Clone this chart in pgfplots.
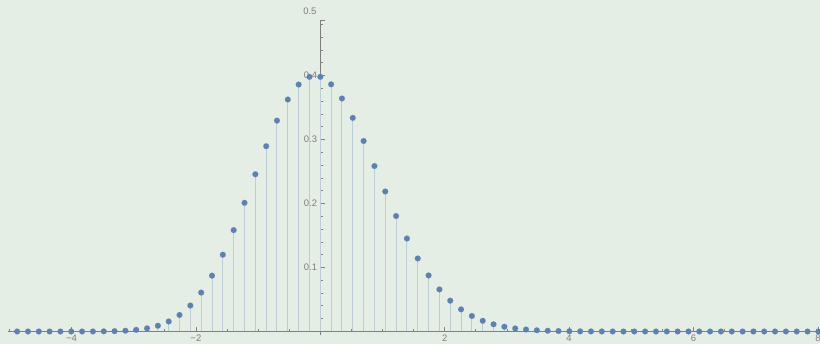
\documentclass[border=0pt]{standalone}
\usepackage{pgfplots}
\pgfplotsset{compat=1.18}
\usepackage{pgfplotstable}
\usepackage{fontspec}
\setmainfont{Liberation Sans}
\definecolor{bg}{RGB}{229,238,229}
\definecolor{pt}{RGB}{94,129,181}
\definecolor{stem}{RGB}{190,204,216}
\definecolor{ax}{RGB}{128,128,128}
\definecolor{lab}{RGB}{125,125,125}

\pgfplotstableread{
x y
-5.0483 0.000000
-4.8742 0.000000
-4.7001 0.000000
-4.5260 0.000000
-4.3519 0.000001
-4.1779 0.000003
-4.0038 0.000011
-3.8297 0.000034
-3.6556 0.000093
-3.4816 0.000237
-3.3075 0.000558
-3.1334 0.001227
-2.9593 0.002530
-2.7852 0.004911
-2.6112 0.009004
-2.4371 0.015639
-2.2630 0.025804
-2.0889 0.040549
-1.9149 0.060824
-1.7408 0.087270
-1.5667 0.119996
-1.3926 0.158394
-1.2185 0.201039
-1.0445 0.245714
-0.8704 0.289592
-0.6963 0.329536
-0.5222 0.362490
-0.3482 0.385877
-0.1741 0.397936
0.0000 0.397936
0.1741 0.386232
0.3482 0.364162
0.5222 0.333815
0.6963 0.297727
0.8704 0.258552
1.0445 0.218775
1.2185 0.180489
1.3926 0.145272
1.5667 0.114143
1.7408 0.087598
1.9149 0.065699
2.0889 0.048179
2.2630 0.034563
2.4371 0.024268
2.6112 0.016684
2.7852 0.011236
2.9593 0.007416
3.1334 0.004799
3.3075 0.003045
3.4816 0.001896
3.6556 0.001159
3.8297 0.000695
4.0038 0.000410
4.1779 0.000237
4.3519 0.000135
4.5260 0.000076
4.7001 0.000042
4.8742 0.000022
5.0483 0.000012
5.2223 0.000006
5.3964 0.000003
5.5705 0.000002
5.7446 0.000001
5.9186 0.000000
6.0927 0.000000
6.2668 0.000000
6.4409 0.000000
6.6150 0.000000
6.7890 0.000000
6.9631 0.000000
7.1372 0.000000
7.3113 0.000000
7.4853 0.000000
7.6594 0.000000
7.8335 0.000000
8.0076 0.000000
}\pmf

\begin{document}
\begin{tikzpicture}
\useasboundingbox (0pt,0pt) rectangle (820pt,344pt);
\fill[bg] (0pt,0pt) rectangle (820pt,344pt);
\clip (0pt,0pt) rectangle (820pt,344pt);
\begin{axis}[
  at={(8.3pt,9.3pt)}, anchor=south west,
  scale only axis, width=812.1pt, height=314.2pt,
  xmin=-5.016, xmax=8.04, ymin=-0.005, ymax=0.486,
  enlargelimits=false,
  axis lines=middle,
  axis line style={ax, line width=0.9pt, -},
  every inner x axis line/.append style={-},
  every inner y axis line/.append style={-},
  xtick={-4,-2,2,4,6,8}, xticklabels={−4,−2,2,4,6,8},
  minor xtick={-5,-4.5,...,8},
  ytick={0.1,0.2,0.3,0.4}, yticklabels={0.1,0.2,0.3,0.4},
  minor ytick={0,0.02,...,0.48},
  extra y ticks={0.486}, extra y tick labels={},
  tick align=inside,
  major tick length=4.5pt, minor tick length=2.5pt,
  tick style={ax, line width=0.8pt},
  ticklabel style={font=\fontsize{9.5}{10}\selectfont, text=lab, inner sep=0pt},
  xticklabel style={anchor=north, yshift=-3pt},
  yticklabel style={anchor=east, xshift=-3pt},
  clip mode=individual,
]
\addplot[ycomb, draw=stem, line width=1pt, no markers] table {\pmf};
\addplot[only marks, mark=*, mark size=2.9pt, mark options={draw=pt, fill=pt, line width=0.1pt}] table {\pmf};
\coordinate (t5) at (axis cs:0,0.5);
\end{axis}
\node[anchor=east, inner sep=0pt, font=\fontsize{9.5}{10}\selectfont, text=lab] at ([xshift=-3.6pt]t5) {0.5};
\end{tikzpicture}
\end{document}
